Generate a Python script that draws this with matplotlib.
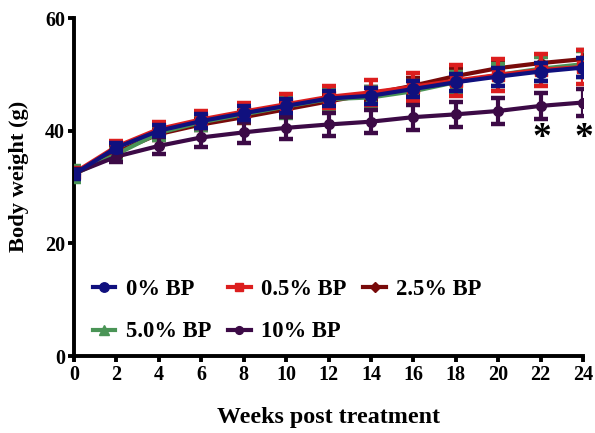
"""Body weight over time by BP dose."""

import matplotlib.pyplot as plt
import numpy as np
from matplotlib.lines import Line2D

weeks = [0, 2, 4, 6, 8, 10, 12, 14, 16, 18, 20, 22, 24]

bp0 = [32.3, 37.0, 40.0, 41.7, 43.1, 44.4, 45.7, 46.2, 47.4, 48.6, 49.6, 50.5, 51.2]
bp05 = [32.5, 37.2, 40.3, 42.0, 43.4, 44.7, 46.0, 46.8, 47.8, 48.9, 49.9, 50.8, 51.3]
bp25 = [32.3, 36.2, 39.4, 41.1, 42.4, 43.8, 45.2, 46.5, 48.0, 49.7, 51.1, 52.0, 52.7]
bp5 = [32.3, 35.8, 39.6, 41.5, 42.9, 44.3, 45.6, 45.9, 47.0, 48.6, 49.9, 51.0, 51.8]
bp10 = [32.4, 35.4, 37.3, 38.8, 39.7, 40.5, 41.1, 41.6, 42.4, 42.9, 43.5, 44.4, 45.0]

err0 = [0.8, 0.8, 1.0, 1.2, 1.2, 1.3, 1.3, 1.4, 1.4, 1.5, 1.6, 1.6, 1.7]
err05 = [0.9, 1.0, 1.2, 1.5, 1.5, 1.8, 2.0, 2.2, 2.5, 2.8, 2.8, 2.9, 3.0]
err25 = [0.8, 0.9, 1.0, 1.0, 1.1, 1.2, 1.2, 1.3, 1.4, 1.4, 1.5, 1.5, 1.6]
err5 = [1.4, 1.0, 1.2, 1.3, 1.4, 2.0, 1.8, 1.8, 1.8, 1.9, 2.0, 2.1, 2.3]
err10 = [0.8, 1.0, 1.5, 1.7, 1.9, 2.0, 2.1, 2.1, 2.2, 2.2, 2.3, 2.3, 2.4]

labels = ["0% BP", "0.5% BP", "2.5% BP", "5.0% BP", "10% BP"]
star_weeks = [22, 24]
star_y = [38.7, 38.7]

plt.rcParams["font.family"] = ["Liberation Serif", "DejaVu Serif"]
plt.rcParams["font.weight"] = "bold"

fig = plt.figure(figsize=(5.95, 4.33), dpi=100)
ax = fig.add_axes([0.1244, 0.1778, 0.8555, 0.7806])

# value, error, colour, marker, marker size, zorder
series = [
    (bp0, err0, "#10107e", "o", 8.5, 6),
    (bp05, err05, "#dc1e1e", "s", 8.0, 4),
    (bp25, err25, "#780a0a", "D", 6.0, 2),
    (bp5, err5, "#4a9456", "^", 8.5, 3),
    (bp10, err10, "#3c0a46", "o", 7.0, 5),
]

handles = []
for (vals, err, color, marker, ms, z), label in zip(series, labels):
    ax.errorbar(weeks, vals, yerr=err, color=color, marker=marker, markersize=ms,
                linewidth=3.0, elinewidth=3.0, capsize=4.8, capthick=3.2, zorder=z)
    handles.append(Line2D([], [], color=color, marker=marker, markersize=ms * 0.8,
                          linewidth=3.0))

for wk, y in zip(star_weeks, star_y):
    ax.text(wk + 0.05, y, "*", fontsize=27, ha="center", va="center", fontweight="bold")

ax.set_xlim(0, 24)
ax.set_ylim(0, 60)
ax.set_xticks(np.arange(0, 25, 2))
ax.set_yticks([0, 20, 40, 60])
ax.spines["top"].set_visible(False)
ax.spines["right"].set_visible(False)
ax.spines["left"].set_linewidth(2.8)
ax.spines["bottom"].set_linewidth(2.8)
ax.tick_params(width=2.8, length=4.5, labelsize=14.5, pad=2)
ax.set_xlabel("Weeks post treatment", fontsize=17.3, fontweight="bold")
ax.set_ylabel("Body weight (g)", fontsize=16.2, fontweight="bold")
ax.xaxis.set_label_coords(0.5, -0.152)
ax.yaxis.set_label_coords(-0.088, 0.53)

order = [0, 3, 1, 4, 2]
ax.legend([handles[i] for i in order], [labels[i] for i in order], ncol=3,
          loc="lower left", bbox_to_anchor=(0.037, 0.04), frameon=False,
          borderpad=0, borderaxespad=0, fontsize=16.3, handlelength=1.0,
          handletextpad=0.45, columnspacing=0.75, labelspacing=0.95)

fig.savefig("out.png", dpi=100)
